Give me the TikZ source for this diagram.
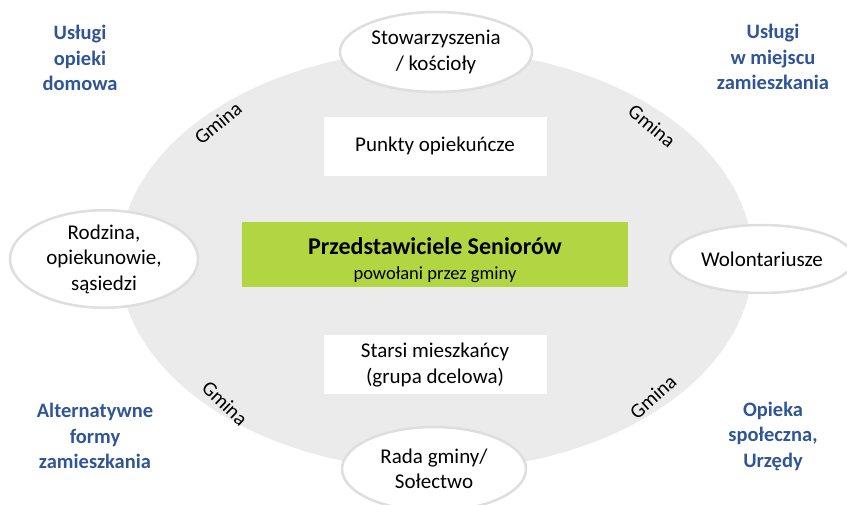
\documentclass[tikz,border=0pt]{standalone}
\usepackage{fontspec}
\setmainfont{Carlito}
\usepackage{xcolor}
\usetikzlibrary{shapes.geometric, positioning}

\definecolor{ringgray}{RGB}{235,235,235}
\definecolor{rimgray}{RGB}{222,222,222}
\definecolor{serviceblue}{RGB}{47,85,151}
\definecolor{seniorgreen}{RGB}{177,214,66}

\begin{document}
\begin{tikzpicture}[x=1pt, y=-1pt, font=\fontsize{21}{25.5}\selectfont]
    % Node Styles
    \tikzstyle{partner} = [ellipse, draw=rimgray, line width=2.5pt, fill=white, inner sep=0pt, align=center]
    \tikzstyle{box} = [rectangle, fill=white, minimum width=223pt, minimum height=59pt, inner sep=0pt, align=center]
    \tikzstyle{service} = [text=serviceblue, font=\fontsize{20.5}{25.5}\selectfont\bfseries, align=center]
    \tikzstyle{commune} = [font=\fontsize{20.5}{24}\selectfont]

    \useasboundingbox (0,0) rectangle (847,505);
    \clip (0,0) rectangle (847,505);

    % --- BACKGROUND: MUNICIPALITY ---
    \node [ellipse, fill=ringgray, minimum width=634pt, minimum height=420pt] (ring) at (436,260) {};

    % --- CENTRE ---
    \node [rectangle, fill=seniorgreen, minimum width=386pt, minimum height=65pt, align=center, font=\fontsize{18.5}{25}\selectfont] (reps) at (435,254.5)
        {\rule{0pt}{28pt}{\fontsize{24}{25}\selectfont\bfseries Przedstawiciele Seniorów}\\powołani przez gminy};
    \node [box, above=46pt of reps] (points) {Punkty opiekuńcze};
    \node [box, below=48pt of reps] (seniors) {Starsi mieszkańcy\\(grupa dcelowa)};

    % --- PARTNERS ON THE RING ---
    \node [partner, minimum width=192pt, minimum height=80pt] (assoc) at (436,52) {Stowarzyszenia\\/ kościoły};
    \node [partner, minimum width=188pt, minimum height=88pt] (family) at (104,259) {Rodzina,\\opiekunowie,\\sąsiedzi};
    \node [partner, minimum width=184pt, minimum height=68pt] (volunteers) at (762,259) {Wolontariusze};
    \node [partner, minimum width=184pt, minimum height=84pt] (council) at (434,469) {Rada gminy/\\Sołectwo};

    % --- GMINA LABELS ---
    \node [commune, rotate=40] (gminaNW) at (218,123) {Gmina};
    \node [commune, rotate=-40] (gminaNE) at (652,126) {Gmina};
    \node [commune, rotate=-44] (gminaSW) at (225,403) {Gmina};
    \node [commune, rotate=42] (gminaSE) at (653,397) {Gmina};

    % --- CORNERS: SERVICES ---
    \node [service] (homecare) at (80,58) {Usługi\\opieki\\domowa};
    \node [service] (localcare) at (773,57) {Usługi\\w miejscu\\zamieszkania};
    \node [service] (housing) at (95,436) {Alternatywne\\formy\\zamieszkania};
    \node [service] (social) at (773,436) {Opieka\\społeczna,\\Urzędy};

\end{tikzpicture}
\end{document}
